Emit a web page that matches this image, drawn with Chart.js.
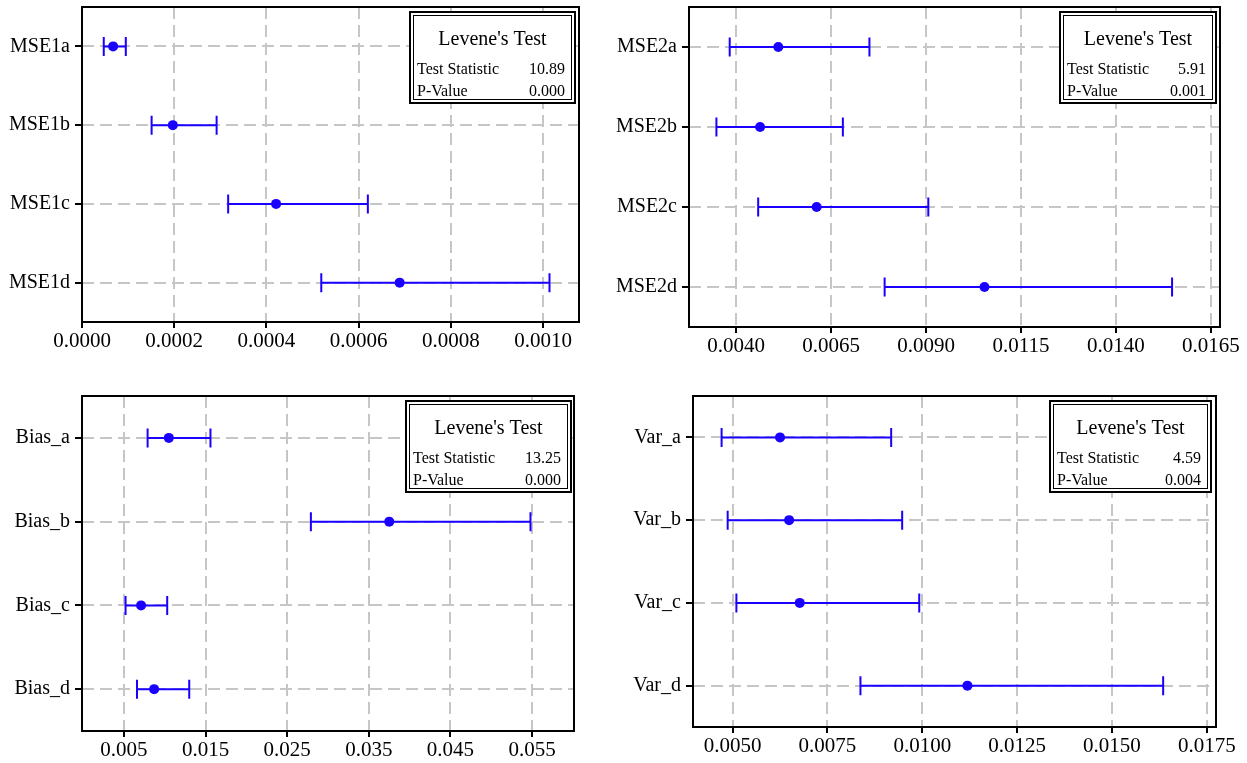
<!DOCTYPE html>
<html>
<head>
<meta charset="utf-8">
<script src="https://cdn.jsdelivr.net/npm/chart.js@4.4.1/dist/chart.umd.min.js"></script>
<style>
  body { margin: 0; background: #fff; }
  #page { position: relative; width: 1247px; height: 763px; background: #fff; }
  canvas { position: absolute; }
</style>
</head>
<body>
<div id="page">
  <canvas id="c1"></canvas>
  <canvas id="c2"></canvas>
  <canvas id="c3"></canvas>
  <canvas id="c4"></canvas>
</div>
<script>
// --- data ---
const mse1Labels = ["MSE1a", "MSE1b", "MSE1c", "MSE1d"];
const mse1Mean = [0.0000675, 0.000197, 0.000421, 0.000689];
const mse1Low = [0.0000472, 0.000151, 0.000317, 0.000519];
const mse1High = [0.0000950, 0.000292, 0.000620, 0.001014];
const mse1Ticks = ["0.0000", "0.0002", "0.0004", "0.0006", "0.0008", "0.0010"];

const mse2Labels = ["MSE2a", "MSE2b", "MSE2c", "MSE2d"];
const mse2Mean = [0.00511, 0.00463, 0.00612, 0.01054];
const mse2Low = [0.00383, 0.00348, 0.00458, 0.00791];
const mse2High = [0.00751, 0.00681, 0.00906, 0.01548];
const mse2Ticks = ["0.0040", "0.0065", "0.0090", "0.0115", "0.0140", "0.0165"];

const biasLabels = ["Bias_a", "Bias_b", "Bias_c", "Bias_d"];
const biasMean = [0.0105, 0.0375, 0.0071, 0.0087];
const biasLow = [0.0079, 0.0279, 0.0052, 0.0066];
const biasHigh = [0.0156, 0.0548, 0.0103, 0.0130];
const biasTicks = ["0.005", "0.015", "0.025", "0.035", "0.045", "0.055"];

const varLabels = ["Var_a", "Var_b", "Var_c", "Var_d"];
const varMean = [0.00625, 0.00649, 0.00677, 0.01119];
const varLow = [0.00471, 0.00487, 0.00510, 0.00837];
const varHigh = [0.00918, 0.00947, 0.00992, 0.01635];
const varTicks = ["0.0050", "0.0075", "0.0100", "0.0125", "0.0150", "0.0175"];

const leveneStat = ["10.89", "5.91", "13.25", "4.59"];
const leveneP = ["0.000", "0.001", "0.000", "0.004"];

const BLUE = "#1a00ff";
const GRID = "#c6c6c6";
const FONT = "'Liberation Serif', 'Times New Roman', serif";

function makePanel(id, pos, area, xr, cats, mean, low, high, tickLabels, stat, pval, box) {
  const cv = document.getElementById(id);
  cv.width = pos.w; cv.height = pos.h;
  cv.style.left = pos.x + "px"; cv.style.top = pos.y + "px";
  const tickVals = tickLabels.map(Number);

  const errorBars = {
    id: "errorBars",
    beforeDatasetsDraw(chart) {
      const { ctx, scales: { x, y } } = chart;
      ctx.save();
      ctx.strokeStyle = BLUE;
      ctx.lineWidth = 2;
      low.forEach((lo, i) => {
        const py = y.getPixelForValue(i);
        const x1 = x.getPixelForValue(lo), x2 = x.getPixelForValue(high[i]);
        ctx.beginPath();
        ctx.moveTo(x1, py); ctx.lineTo(x2, py);
        ctx.moveTo(x1, py - 9.5); ctx.lineTo(x1, py + 9.5);
        ctx.moveTo(x2, py - 9.5); ctx.lineTo(x2, py + 9.5);
        ctx.stroke();
      });
      ctx.restore();
    }
  };

  const frameAndTable = {
    id: "frameAndTable",
    afterDraw(chart) {
      const { ctx, chartArea: a } = chart;
      ctx.save();
      ctx.strokeStyle = "#000";
      ctx.lineWidth = 2;
      ctx.strokeRect(a.left, a.top, a.right - a.left, a.bottom - a.top);

      // Levene's test box
      const w = box.w, h = 91;
      const bx = a.right - box.r - w, by = a.top + 5;
      ctx.fillStyle = "#fff";
      ctx.fillRect(bx, by, w, h);
      ctx.lineWidth = 2;
      ctx.strokeRect(bx, by, w, h);
      ctx.lineWidth = 1;
      ctx.strokeRect(bx + 3.5, by + 3.5, w - 7, h - 7);

      ctx.fillStyle = "#000";
      ctx.textBaseline = "middle";
      ctx.font = "20px " + FONT;
      ctx.textAlign = "center";
      ctx.fillText("Levene's Test", bx + w / 2, by + 28);
      ctx.font = "16px " + FONT;
      ctx.textAlign = "left";
      ctx.fillText("Test Statistic", bx + 7, by + 58);
      ctx.fillText("P-Value", bx + 7, by + 80);
      ctx.textAlign = "right";
      ctx.fillText(stat, bx + w - 10, by + 58);
      ctx.fillText(pval, bx + w - 10, by + 80);
      ctx.restore();
    }
  };

  return new Chart(cv, {
    type: "scatter",
    data: {
      datasets: [{
        data: mean.map((m, i) => ({ x: m, y: cats[i] })),
        pointRadius: 5,
        pointHoverRadius: 5,
        pointBackgroundColor: BLUE,
        pointBorderWidth: 0,
        showLine: false
      }]
    },
    options: {
      responsive: false,
      animation: false,
      devicePixelRatio: 1,
      layout: { padding: { left: 0, top: area.t, right: pos.w - area.r, bottom: 0 } },
      plugins: { legend: { display: false }, tooltip: { enabled: false } },
      scales: {
        x: {
          type: "linear",
          min: xr[0], max: xr[1],
          afterBuildTicks: s => { s.ticks = tickVals.map(v => ({ value: v })); },
          afterFit: s => {
            s.height = pos.h - area.b;
            s.paddingLeft = 0; s.paddingRight = 0;
          },
          ticks: {
            callback: (v, i) => tickLabels[i],
            font: { family: FONT, size: 21 },
            color: "#000",
            padding: 1,
            maxRotation: 0,
            autoSkip: false
          },
          grid: { color: GRID, lineWidth: 2, tickLength: 6, tickColor: "#000", tickWidth: 2 },
          border: { display: false, dash: [12, 6] }
        },
        y: {
          type: "category",
          labels: cats,
          offset: true,
          afterFit: s => {
            s.width = area.l;
            s.paddingTop = 0; s.paddingBottom = 0;
          },
          ticks: { font: { family: FONT, size: 20 }, color: "#000", padding: 5 },
          grid: { color: GRID, lineWidth: 2, offset: false, tickLength: 7, tickColor: "#000", tickWidth: 2 },
          border: { display: false, dash: [12, 6] }
        }
      }
    },
    plugins: [errorBars, frameAndTable]
  });
}

makePanel("c1", { x: 0, y: 0, w: 620, h: 378 }, { l: 82, t: 7, r: 579, b: 322 },
  [0, 0.001078], mse1Labels, mse1Mean, mse1Low, mse1High, mse1Ticks,
  leveneStat[0], leveneP[0], { w: 165, r: 4 });

makePanel("c2", { x: 600, y: 0, w: 647, h: 378 }, { l: 89, t: 7, r: 620, b: 327 },
  [0.002758, 0.016742], mse2Labels, mse2Mean, mse2Low, mse2High, mse2Ticks,
  leveneStat[1], leveneP[1], { w: 156, r: 4 });

makePanel("c3", { x: 0, y: 380, w: 620, h: 383 }, { l: 82, t: 16, r: 574, b: 351 },
  [-0.000136, 0.06013], biasLabels, biasMean, biasLow, biasHigh, biasTicks,
  leveneStat[2], leveneP[2], { w: 165, r: 3 });

makePanel("c4", { x: 600, y: 380, w: 647, h: 383 }, { l: 93, t: 16, r: 616, b: 347 },
  [0.003956, 0.017743], varLabels, varMean, varLow, varHigh, varTicks,
  leveneStat[3], leveneP[3], { w: 161, r: 5 });
</script>
</body>
</html>
